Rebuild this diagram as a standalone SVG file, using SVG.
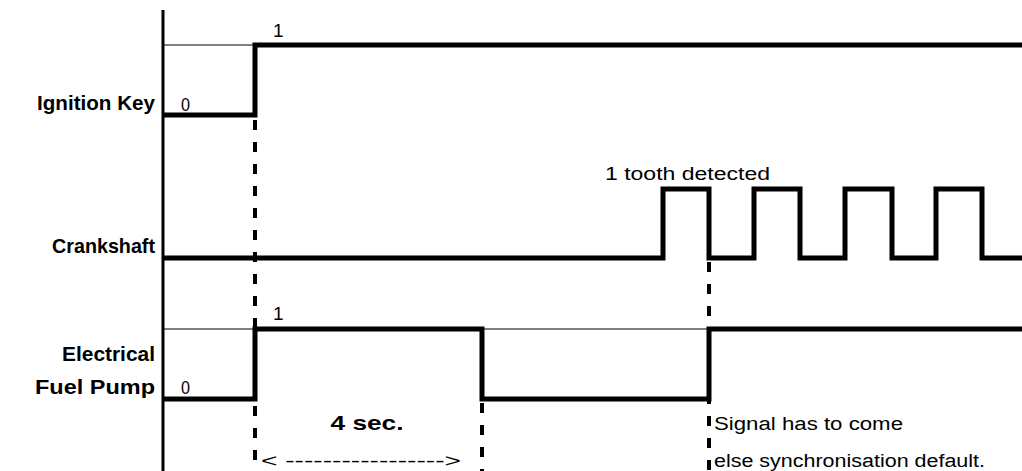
<svg xmlns="http://www.w3.org/2000/svg" width="1022" height="471" viewBox="0 0 1022 471">
<style>
.sig{fill:none;stroke:#000;stroke-width:5;stroke-linejoin:miter;stroke-linecap:butt}
.ref{fill:none;stroke:#000;stroke-width:1}
.dash{fill:none;stroke:#000;stroke-width:4;stroke-dasharray:10 12}
.lbl{font-family:"Liberation Sans",Arial,sans-serif;font-weight:bold;font-size:21px;fill:#000}
.val{font-family:"Liberation Sans",Arial,sans-serif;font-size:18px;fill:#000}
.dig{font-family:"Liberation Sans",Arial,sans-serif;font-size:19px;fill:#000}
</style>
<rect width="1022" height="471" fill="#fff"/>
<g id="axis">
<line x1="163" y1="10" x2="163" y2="471" stroke="#000" stroke-width="3"/>
</g>
<g id="ignition-key">
<line class="ref" x1="163" y1="45" x2="255" y2="45"/>
<path class="sig" d="M163,115 H255 V45 H1022"/>
<text class="lbl" x="155" y="110" text-anchor="end" textLength="118" lengthAdjust="spacingAndGlyphs">Ignition Key</text>
<text class="dig" x="273" y="37">1</text>
<text class="dig" x="181" y="111" textLength="9" lengthAdjust="spacingAndGlyphs">0</text>
</g>
<g id="crankshaft">
<path class="sig" d="M163,258 H663 V189 H709 V258 H754 V189 H800 V258 H845 V189 H892 V258 H936 V189 H982 V258 H1022"/>
<text class="lbl" x="155" y="253" text-anchor="end" textLength="103" lengthAdjust="spacingAndGlyphs">Crankshaft</text>
<text class="val" x="605" y="180" textLength="165" lengthAdjust="spacingAndGlyphs">1 tooth detected</text>
</g>
<g id="fuel-pump">
<line class="ref" x1="163" y1="329" x2="1022" y2="329"/>
<path class="sig" d="M163,399 H255 V329 H482 V399 H709 V329 H1022"/>
<text class="lbl" x="155" y="361" text-anchor="end" textLength="93" lengthAdjust="spacingAndGlyphs">Electrical</text>
<text class="lbl" x="155" y="394" text-anchor="end" textLength="120" lengthAdjust="spacingAndGlyphs">Fuel Pump</text>
<text class="dig" x="273" y="320">1</text>
<text class="dig" x="181" y="394" textLength="9" lengthAdjust="spacingAndGlyphs">0</text>
</g>
<g id="connectors">
<line class="dash" x1="255" y1="120" x2="255" y2="471"/>
<line class="dash" x1="482" y1="403" x2="482" y2="471"/>
<line class="dash" x1="709" y1="262" x2="709" y2="471"/>
</g>
<g id="timing-annotation">
<text class="lbl" x="367" y="430" text-anchor="middle" textLength="73" lengthAdjust="spacingAndGlyphs">4  sec.</text>
<text class="val" x="261" y="467" textLength="200" lengthAdjust="spacingAndGlyphs">&lt; -----------------&gt;</text>
</g>
<g id="sync-note">
<text class="val" x="714" y="430" textLength="189" lengthAdjust="spacingAndGlyphs">Signal has to come</text>
<text class="val" x="714" y="467" textLength="271" lengthAdjust="spacingAndGlyphs">else synchronisation default.</text>
</g>
</svg>
